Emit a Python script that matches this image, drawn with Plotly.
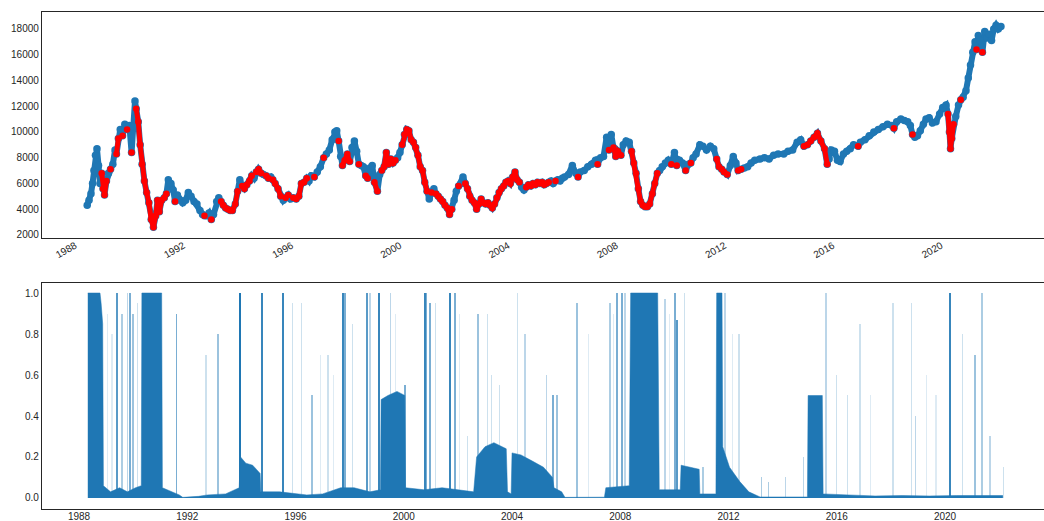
import plotly.graph_objects as go

# ---------------- price series (top panel) ----------------
price_dates = [
 "1988-04-20","1988-05-15","1988-06-10","1988-07-01","1988-07-20","1988-08-10","1988-08-30","1988-09-20","1988-10-10",
 "1988-11-01","1988-11-20","1988-12-10","1989-01-05","1989-02-01","1989-03-01","1989-04-01","1989-05-01","1989-05-20",
 "1989-06-15","1989-07-10","1989-08-10","1989-09-10","1989-10-10","1989-11-10","1989-12-10","1990-01-01","1990-01-25",
 "1990-02-10","1990-03-10","1990-04-05","1990-05-01","1990-06-01","1990-07-01","1990-08-01","1990-09-01","1990-10-01",
 "1990-11-01","1990-11-25","1990-12-20","1991-01-20","1991-02-25","1991-03-25","1991-04-20","1991-05-25","1991-06-25",
 "1991-07-20","1991-08-20","1991-09-25","1991-11-01","1991-12-10","1992-01-15","1992-02-20","1992-04-01","1992-05-10",
 "1992-06-20","1992-07-25","1992-08-20","1992-09-20","1992-10-20","1992-11-20","1992-12-20","1993-02-01","1993-03-01",
 "1993-04-01","1993-05-01","1993-06-01","1993-07-01","1993-08-01","1993-09-01","1993-10-10","1993-11-10","1993-12-10",
 "1994-01-10","1994-02-10","1994-03-15","1994-04-20","1994-05-20","1994-06-20","1994-07-20","1994-08-20","1994-09-25",
 "1994-10-25","1994-12-01","1995-01-01","1995-02-01","1995-03-01","1995-04-01","1995-05-10","1995-06-15","1995-07-20",
 "1995-08-20","1995-09-25","1995-10-25","1995-12-01","1996-01-10","1996-02-15","1996-03-20","1996-04-25","1996-06-01",
 "1996-07-01","1996-08-01","1996-09-10","1996-10-20","1996-12-01","1997-01-15","1997-02-20","1997-04-01","1997-05-10",
 "1997-06-15","1997-07-10","1997-08-05","1997-09-01","1997-09-25","1997-10-25","1997-12-01","1998-01-01","1998-02-01",
 "1998-03-05","1998-04-05","1998-05-05","1998-06-05","1998-07-05","1998-08-05","1998-09-01","1998-10-01","1998-11-01",
 "1998-12-01","1999-01-10","1999-02-10","1999-03-10","1999-04-10","1999-05-10","1999-06-10","1999-07-10","1999-08-10",
 "1999-09-10","1999-10-10","1999-11-10","1999-12-10","2000-01-10","2000-02-10","2000-03-10","2000-04-10","2000-05-10",
 "2000-06-10","2000-07-10","2000-08-10","2000-09-10","2000-10-10","2000-11-10","2000-12-10","2001-01-10","2001-02-10",
 "2001-03-10","2001-04-10","2001-05-10","2001-06-10","2001-07-10","2001-08-10","2001-09-10","2001-10-10","2001-11-10",
 "2001-12-10","2002-01-10","2002-02-10","2002-03-10","2002-04-10","2002-05-10","2002-06-10","2002-07-10","2002-08-10",
 "2002-09-10","2002-10-10","2002-11-10","2002-12-10","2003-01-10","2003-02-10","2003-03-10","2003-04-10","2003-05-10",
 "2003-06-10","2003-07-10","2003-08-10","2003-09-10","2003-10-10","2003-11-10","2003-12-10","2004-01-10","2004-02-10",
 "2004-03-10","2004-04-10","2004-05-10","2004-06-10","2004-07-10","2004-08-10","2004-09-10","2004-10-10","2004-11-10",
 "2004-12-10","2005-01-10","2005-02-10","2005-03-10","2005-04-10","2005-05-10","2005-06-10","2005-07-10","2005-08-10",
 "2005-09-10","2005-10-10","2005-11-10","2005-12-10","2006-02-01","2006-03-25","2006-05-10","2006-06-10","2006-07-10",
 "2006-09-01","2006-10-20","2006-12-10","2007-02-01","2007-03-01","2007-04-10","2007-05-20","2007-07-01","2007-08-01",
 "2007-09-01","2007-10-01","2007-11-01","2007-12-01","2008-01-10","2008-02-10","2008-03-20","2008-05-01","2008-06-01",
 "2008-07-01","2008-08-01","2008-09-01","2008-10-01","2008-11-01","2008-12-01","2009-01-01","2009-02-01","2009-03-10",
 "2009-04-10","2009-05-15","2009-06-15","2009-07-20","2009-09-01","2009-10-10","2009-11-20","2010-01-01","2010-02-01",
 "2010-03-10","2010-04-20","2010-06-01","2010-07-10","2010-08-10","2010-09-10","2010-10-20","2010-12-10","2011-01-20",
 "2011-03-10","2011-05-01","2011-06-15","2011-07-25","2011-08-25","2011-10-01","2011-11-01","2011-12-15","2012-01-25",
 "2012-03-05","2012-04-10","2012-05-10","2012-06-20","2012-08-01","2012-09-15","2012-11-01","2012-12-20","2013-03-01",
 "2013-05-01","2013-07-01","2013-09-01","2013-11-01","2014-01-15","2014-03-15","2014-05-15","2014-07-15","2014-09-01",
 "2014-10-15","2014-12-01","2015-01-15","2015-03-01","2015-04-15","2015-06-01","2015-07-20","2015-08-25","2015-09-20",
 "2015-10-20","2015-12-01","2016-01-10","2016-02-15","2016-04-01","2016-05-15","2016-07-01","2016-08-15","2016-10-15",
 "2016-11-15","2017-01-15","2017-03-15","2017-05-15","2017-07-15","2017-09-15","2017-11-15","2018-01-15","2018-02-10",
 "2018-03-20","2018-05-15","2018-07-01","2018-08-15","2018-09-20","2018-10-20","2018-11-20","2018-12-25","2019-02-01",
 "2019-03-15","2019-04-20","2019-06-01","2019-07-15","2019-09-01","2019-10-20","2019-12-01","2020-01-15","2020-02-10",
 "2020-03-01","2020-03-15","2020-04-01","2020-04-25","2020-05-25","2020-07-01","2020-08-01","2020-09-01","2020-10-10",
 "2020-11-10","2020-12-10","2021-01-10","2021-02-10","2021-03-01","2021-03-25","2021-04-20","2021-05-20","2021-06-20",
 "2021-07-20","2021-08-20","2021-09-20","2021-10-20","2021-11-20","2021-12-20","2022-01-25",
]
price_values = [
 4300,4700,5200,6000,7000,8200,8700,7400,6000,
 6800,5600,5100,6200,6800,7100,7500,8600,8300,
 9500,10200,9700,10600,10200,10500,8400,10400,12400,
 11800,10800,9000,7500,6200,5300,4500,3200,2600,
 3500,4700,3800,4700,4900,5200,6300,6000,5500,
 4600,5100,4700,4500,4700,5300,5000,4600,4400,
 3900,3600,3500,3500,3700,3200,3600,4600,4900,
 4600,4300,4100,4000,3900,3900,4400,5400,6300,
 5800,5600,5900,6200,6600,6400,6900,7100,6800,
 6700,6600,6400,6500,6300,6000,5600,5000,4700,
 4900,5100,4800,4900,4800,5000,6000,6100,6400,
 6200,6600,6500,6900,7300,8000,8300,8600,9400,
 10000,10100,9300,8100,7400,7800,8300,7700,8800,
 9300,8500,7500,7400,7300,6600,6400,7200,7400,
 6100,5400,6700,7000,7300,8400,7500,7900,7600,
 7800,8000,8400,9000,9800,10200,10100,9400,9200,
 8800,8200,7300,7000,6100,5400,4800,5300,5600,
 5200,5000,4800,4600,4300,4100,3600,4000,4700,
 5400,5800,6000,6500,6000,5600,5000,4700,4500,
 4000,4400,4800,4500,4400,4500,4300,4100,4400,
 4900,5300,5600,5800,6100,6200,6000,6500,6900,
 6300,6100,5700,5500,5700,5900,5800,6000,5900,
 6100,6000,6100,5900,6000,6100,6200,6000,6200,
 6300,6200,6400,6500,6700,7400,6800,6500,6900,
 7000,7300,7500,7800,7500,8000,8100,9600,8600,
 9800,8800,8100,8500,8200,9000,9300,9200,8500,
 7600,6800,5600,4600,4300,4200,4200,4400,5200,
 6000,6800,7000,7300,7600,7800,7500,8400,7400,
 7800,7600,7000,7500,7600,8000,8300,9000,8900,
 8600,8900,8700,7900,7300,7100,6900,6700,7400,
 8100,7600,7000,7100,7200,7300,7600,7800,7900,
 8000,7900,8200,8300,8300,8500,8600,9200,9400,
 8900,9000,9300,9600,9900,9300,8700,7500,7900,
 8600,8500,7800,7700,8300,8500,8700,9000,8900,
 9200,9400,9700,10000,10200,10400,10600,10500,10300,
 10800,11000,10900,10800,10500,9800,9600,9700,10100,
 10600,11000,11100,10700,10800,11400,11900,12100,11400,
 10000,8700,9500,10600,11200,12100,12500,12700,13200,
 14200,15200,16200,17000,16400,17500,17100,16200,17800,
 17300,17600,17100,18000,18300,18000,18200,
]
# 1 = high-volatility regime (red), 0 = calm regime (blue)
price_regime = [
 0,0,0,0,0,0,0,0,0,
 1,1,1,1,0,1,0,0,1,
 1,0,1,0,1,0,1,0,0,
 1,1,1,1,1,1,1,1,1,
 1,1,1,1,1,1,0,0,0,
 1,0,0,0,0,0,0,0,0,
 0,0,1,0,0,1,0,0,0,
 1,1,1,1,1,1,1,1,0,
 1,1,1,1,1,0,1,1,1,
 0,1,1,0,1,1,1,1,0,
 1,1,0,1,1,1,1,1,1,
 0,0,1,0,0,1,0,0,0,
 0,0,1,0,1,1,1,1,0,
 0,0,1,0,0,1,1,0,0,
 1,1,0,1,1,1,1,1,1,
 1,0,0,1,1,1,1,1,1,
 1,1,1,1,1,1,0,1,0,
 1,1,1,1,1,1,1,1,0,
 0,1,0,0,1,1,1,1,1,
 1,1,1,1,1,1,1,1,1,
 1,1,1,1,1,1,1,1,1,
 1,1,0,0,1,1,1,1,1,
 1,1,1,1,1,1,0,0,1,
 0,0,0,0,0,0,0,1,0,
 0,0,0,0,1,0,0,0,1,
 0,1,1,1,1,0,0,0,1,
 1,1,1,1,1,1,1,1,1,
 1,1,0,0,0,0,1,0,1,
 0,0,1,0,1,0,0,0,0,
 0,0,0,1,1,1,1,1,0,
 0,0,1,1,0,0,0,0,0,
 0,0,0,0,0,0,0,0,0,
 1,1,1,1,1,1,1,1,0,
 0,0,0,0,0,0,0,0,1,
 0,0,0,0,0,0,0,0,1,
 0,0,0,0,0,1,0,0,0,
 0,0,0,0,0,0,0,0,1,
 1,1,1,1,0,0,1,0,0,
 0,0,0,0,1,0,0,1,0,
 0,0,0,0,0,0,0,
]

# ---------------- regime probability (bottom panel) ----------------
prob_dates = [
 "1988-04-28","1988-10-10","1988-10-25","1988-11-15","1988-11-25","1989-03-01","1989-07-01","1989-10-15",
 "1990-02-01","1990-04-20","1990-04-28","1991-01-20","1991-01-30","1991-06-01","1991-09-15","1991-11-01",
 "1992-06-01","1992-10-01","1993-06-01","1993-12-01","1993-12-20","1994-03-01","1994-06-01","1994-09-10",
 "1994-09-20","1995-06-01","1996-06-01","1997-01-01","1997-09-01","1998-03-01","1998-10-01","1999-02-20",
 "1999-03-01","1999-06-01","1999-10-01","2000-01-15","2000-01-25","2000-10-01","2001-06-01","2002-01-01",
 "2002-08-01","2002-09-10","2003-01-01","2003-05-01","2003-10-15","2003-11-01","2003-12-20","2004-01-01",
 "2004-05-01","2004-10-01","2005-03-01","2005-07-01","2005-07-20","2005-11-01","2005-12-15","2007-06-01",
 "2007-06-20","2008-05-01","2008-05-20","2009-05-20","2009-06-10","2010-03-20","2010-04-01","2010-12-01",
 "2010-12-10","2011-07-15","2011-07-25","2011-10-05","2011-10-15","2012-01-15","2012-06-01","2012-10-01",
 "2013-03-01","2014-12-01","2014-12-10","2015-06-20","2015-07-01","2016-06-01","2017-06-01","2018-06-01",
 "2019-06-01","2020-06-01","2022-02-20",
]
prob_values = [
 1.0,1.0,0.95,0.85,0.06,0.03,0.05,0.03,
 0.05,0.06,1.0,1.0,0.05,0.03,0.015,0.003,
 0.008,0.015,0.02,0.05,0.2,0.17,0.16,0.12,
 0.03,0.03,0.015,0.02,0.05,0.05,0.03,0.04,
 0.48,0.5,0.52,0.5,0.05,0.04,0.05,0.04,
 0.03,0.2,0.25,0.27,0.24,0.03,0.02,0.22,
 0.21,0.18,0.15,0.1,0.05,0.03,0.003,0.004,
 0.05,0.06,1.0,1.0,0.04,0.04,0.16,0.14,
 0.02,0.02,1.0,1.0,0.25,0.15,0.08,0.03,
 0.005,0.005,0.5,0.5,0.02,0.015,0.01,0.012,
 0.01,0.012,0.012,
]
# short-lived probability spikes: date, peak probability, duration in days
spike_dates = [
 "1989-05-30","1989-08-05","1989-10-20","1989-11-15","1990-01-01","1991-08-10","1992-09-10","1993-02-20",
 "1993-12-15","1994-10-05","1995-07-15","1995-11-25","1996-03-25","1996-08-10","1997-03-15","1997-10-05",
 "1997-11-01","1998-08-20","1998-10-01","1999-02-01","1999-07-01","2000-01-20","2000-10-15","2000-11-05",
 "2000-12-20","2001-09-15","2001-11-25","2002-05-05","2002-10-01","2003-02-05","2003-04-01","2003-07-20",
 "2004-03-10","2004-06-25","2005-04-15","2005-07-10","2005-08-30","2006-05-25","2007-08-15","2007-11-20",
 "2008-01-25","2008-03-05","2009-08-25","2010-01-08","2010-02-05","2010-05-20","2011-01-20","2011-11-15",
 "2012-05-20","2013-03-25","2013-06-20","2014-02-05","2014-10-05","2015-08-10","2016-01-01","2016-05-20",
 "2016-11-10","2018-01-30","2018-10-10","2018-11-25","2020-03-10","2020-08-20","2021-02-10","2021-05-15",
 "2021-08-30","2022-02-25",
 "1989-01-15","1989-03-20","1990-03-01","1996-12-01","1997-06-01","1998-02-10","1999-09-10","2001-03-01",
 "2002-01-20","2006-11-01","2007-10-01","2009-11-01","2012-02-20","2017-04-01","2019-05-01","2019-09-01",
]
spike_heights = [
 1.0,0.9,1.0,1.0,0.9,0.9,0.7,0.8,
 1.0,1.0,1.0,0.95,0.95,0.5,0.7,1.0,
 1.0,1.0,1.0,1.0,1.0,0.55,1.0,1.0,
 0.95,1.0,1.0,0.3,0.9,0.9,0.6,0.55,
 1.0,0.8,0.6,0.5,0.5,0.95,0.95,1.0,
 1.0,1.0,0.97,1.0,0.87,1.0,0.15,1.0,
 0.8,0.1,0.08,0.1,0.2,1.0,0.6,0.5,
 0.85,0.95,0.95,0.4,1.0,0.8,0.7,1.0,
 0.3,0.15,
 0.9,0.8,0.95,0.7,0.6,0.85,0.9,0.95,
 0.9,0.8,0.9,0.9,0.8,0.5,0.6,0.5,
]
spike_days = [
 10,5,4,8,6,8,3,6,
 14,12,12,3,3,6,3,12,
 8,10,4,12,4,8,12,8,
 8,12,8,3,6,3,3,3,
 3,4,4,8,6,6,5,8,
 8,4,4,8,10,3,5,4,
 3,5,5,4,4,4,3,3,
 3,3,3,4,12,3,6,5,
 4,3,
 2,2,3,2,2,3,2,3,
 2,2,2,2,2,2,2,2,
]

BLUE = "#1f77b4"
RED = "#ff0000"
INK = "#262626"
DAY_MS = 86400000
PX_DAYS = 13.5  # days covered by one pixel column

fig = go.Figure()

# top: all observations (blue), regime-1 observations overplotted (red)
fig.add_trace(go.Scatter(
    x=price_dates, y=price_values, mode="lines+markers",
    line=dict(color=BLUE, width=6), marker=dict(color=BLUE, size=7.5),
    xaxis="x", yaxis="y", showlegend=False, hoverinfo="skip"))
red_vals = [v if r == 1 else None for v, r in zip(price_values, price_regime)]
fig.add_trace(go.Scatter(
    x=price_dates, y=red_vals, mode="lines+markers", connectgaps=False,
    line=dict(color=RED, width=5), marker=dict(color=RED, size=6.5),
    xaxis="x", yaxis="y", showlegend=False, hoverinfo="skip"))

# bottom: smoothed probability
fig.add_trace(go.Scatter(
    x=prob_dates, y=prob_values, mode="lines", fill="tozeroy",
    line=dict(color=BLUE, width=0.5), fillcolor=BLUE,
    xaxis="x2", yaxis="y2", showlegend=False, hoverinfo="skip"))
fig.add_trace(go.Bar(
    x=spike_dates, y=spike_heights,
    width=[d * DAY_MS for d in spike_days],
    marker=dict(color=BLUE, opacity=[min(1.0, d / PX_DAYS) for d in spike_days], line=dict(width=0)),
    xaxis="x2", yaxis="y2", showlegend=False, hoverinfo="skip"))

xrange = ["1986-08-19", "2023-08-29"]
tickfont = dict(family="Liberation Sans, Arial, sans-serif", size=10, color=INK)
common_x = dict(type="date", range=xrange, dtick="M48", tick0="1988-01-01", tickformat="%Y",
                showgrid=False, zeroline=False, showline=True, mirror=True, automargin=False,
                linecolor=INK, linewidth=1.3, ticks="", tickfont=tickfont)
common_y = dict(showgrid=False, zeroline=False, showline=True, mirror=False, automargin=False,
                linecolor=INK, linewidth=1.3, ticks="", tickfont=tickfont)

fig.update_layout(
    width=1044, height=521,
    margin=dict(l=42, r=0, t=12, b=12, autoexpand=False),
    paper_bgcolor="white", plot_bgcolor="white",
    bargap=0,
    xaxis=dict(**common_x, domain=[0, 1], anchor="y", tickangle=-30,
               ticklabelstandoff=-3, ticklabelshift=-4),
    yaxis=dict(**common_y, domain=[0.5453, 1.0], anchor="x", range=[1767, 19320],
               tick0=2000, dtick=2000, tickformat="d"),
    xaxis2=dict(**common_x, domain=[0, 1], anchor="y2", tickangle=0, ticklabelstandoff=-2),
    yaxis2=dict(**common_y, domain=[0.0, 0.4547], anchor="x2", range=[-0.0537, 1.0488],
                tick0=0, dtick=0.2, tickformat=".1f"),
)

fig.write_html("out.html", config={"displayModeBar": False},
               post_script="document.body.style.margin='0';")
